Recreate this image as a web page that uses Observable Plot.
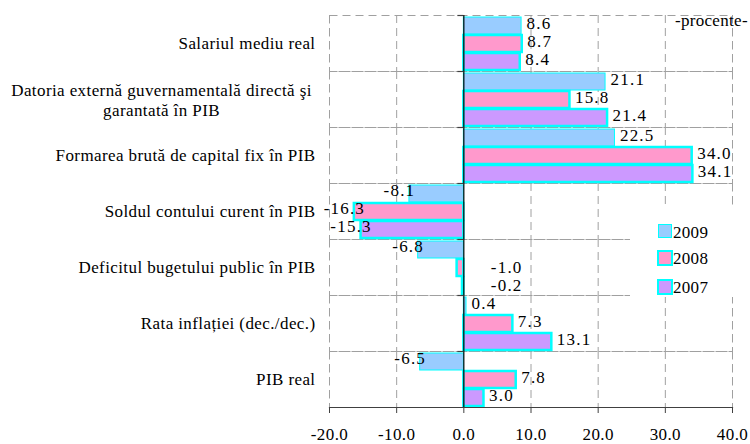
<!DOCTYPE html>
<html>
<head>
<meta charset="utf-8">
<script src="https://cdn.jsdelivr.net/npm/d3@7"></script>
<script src="https://cdn.jsdelivr.net/npm/@observablehq/plot@0.6"></script>
<style>
  html, body { margin: 0; padding: 0; background: white; }
  #wrap { position: relative; width: 750px; height: 444px; font-family: "Liberation Serif", "Times New Roman", serif; }
  #wrap svg text { letter-spacing: 0.4px; }
  #wrap svg .vlab text, #wrap svg text.vlab, #wrap svg g.vlab text { letter-spacing: 1.2px; }
  .ov { position: absolute; font-size: 17px; color: #000; white-space: nowrap; line-height: 1; letter-spacing: 0.3px; }
  .sw { position: absolute; width: 12px; height: 12px; box-sizing: content-box; }
  .lgbox { position: absolute; background: white; }
</style>
</head>
<body>
<div id="wrap"></div>
<script>
const categories = [
  "Salariul mediu real",
  "Datoria externă guvernamentală directă şi\ngarantată în PIB",
  "Formarea brută de capital fix în PIB",
  "Soldul contului curent în PIB",
  "Deficitul bugetului public în PIB",
  "Rata inflației (dec./dec.)",
  "PIB real"
];
const series = ["2009", "2008", "2007"];
const values2009 = [8.6, 21.1, 22.5, -8.1, -6.8, 0.4, -6.5];
const values2008 = [8.7, 15.8, 34.0, -16.3, -1.0, 7.3, 7.8];
const values2007 = [8.4, 21.4, 34.1, -15.3, -0.2, 13.1, 3.0];
const xTicks = [-20, -10, 0, 10, 20, 30, 40];
const colors = ["#99CCFF", "#FF99CC", "#CC99FF"];
const unitNote = "-procente-";

const seriesValues = [values2009, values2008, values2007];
const rows = [];
categories.forEach((c, i) => {
  series.forEach((s, j) => {
    rows.push({category: c, series: s, value: seriesValues[j][i]});
  });
});

const font = "Liberation Serif";
const grid = {stroke: "#a0a0a0", strokeDasharray: "8,5", strokeWidth: 1};
const fmt = d => d.value.toFixed(1);
const chart = Plot.plot({
  width: 750,
  height: 444,
  marginLeft: 329,
  marginRight: 18,
  marginTop: 15,
  marginBottom: 37,
  style: "font-family: 'Liberation Serif', 'Times New Roman', serif; font-size: 17px; background: white; color: black; overflow: visible;",
  facet: {data: rows, y: "category"},
  fy: {domain: categories, padding: 0, axis: null, label: null},
  y: {domain: series, axis: null, paddingInner: 0.06, paddingOuter: 0.04},
  x: {domain: [-20, 40], axis: null},
  color: {domain: series, range: colors},
  marks: [
    Plot.ruleX(xTicks.filter(t => t !== 0), grid),
    Plot.frame(grid),
    Plot.barX(rows, {x: "value", y: "series", fill: "series", stroke: "#00FFFF",
      strokeWidth: d => d.series === "2009" ? 1 : 2.5}),
    Plot.ruleX([0], {stroke: "#000", strokeWidth: 1.2}),
    Plot.frame({anchor: "bottom", facetAnchor: "bottom", stroke: "#404040", strokeWidth: 1.2}),
    Plot.axisX({ticks: xTicks, tickFormat: d => d.toFixed(1), label: null, tickSize: 6, tickPadding: 14,
      stroke: "#404040", fill: "#000", fontSize: 17, fontFamily: font}),
    // value labels: positive values after the bar end
    Plot.text(rows, {filter: d => d.value >= 0, x: "value", y: "series", text: fmt,
      textAnchor: "start", dx: 5, dy: -2, fill: "#000", fontSize: 17, fontFamily: font, className: "vlab"}),
    // larger negative values before the bar end
    Plot.text(rows, {filter: d => d.value <= -2, x: "value", y: "series", text: fmt,
      textAnchor: "middle", dx: -10, dy: -3, fill: "#000", fontSize: 17, fontFamily: font, className: "vlab"}),
    // small negative values are labelled to the right of the zero axis
    Plot.text(rows, {filter: d => d.value < 0 && d.value > -2, x: d => Math.max(d.value, 0), y: "series", text: fmt,
      textAnchor: "start", dx: 27, dy: 0, fill: "#000", fontSize: 17, fontFamily: font, className: "vlab"}),
    // category labels
    Plot.text(rows, {filter: d => d.series === "2009" && !d.category.includes("\n"), frameAnchor: "left",
      text: "category", textAnchor: "end", dx: -14, fill: "#000", fontSize: 17, fontFamily: font}),
    Plot.text(rows, {filter: d => d.series === "2009" && d.category.includes("\n"), frameAnchor: "left",
      text: "category", textAnchor: "middle", dx: -168, fill: "#000", fontSize: 17, fontFamily: font, lineHeight: 1.18})
  ]
});

const wrap = document.getElementById("wrap");
wrap.appendChild(chart);

// small tick marks on the zero axis at the category boundaries, from the chart's own scales
try {
  const xs = chart.scale("x");
  const fys = chart.scale("fy");
  const x0 = xs.apply(0);
  const g = d3.select(chart).append("g").attr("stroke", "#404040").attr("stroke-width", 1.2);
  categories.forEach(c => {
    const b = fys.apply(c);
    g.append("line").attr("x1", x0 - 6).attr("x2", x0).attr("y1", b + 0.5).attr("y2", b + 0.5);
  });
} catch (e) {}

// legend overlay
const box = document.createElement("div");
box.className = "lgbox";
box.style.left = "630px"; box.style.top = "207px";
box.style.width = "108px"; box.style.height = "90px";
wrap.appendChild(box);
const legendTops = [224, 249.5, 278.5];
const legendBorder = [1, 2, 2];
series.forEach((s, j) => {
  const sw = document.createElement("div");
  sw.className = "sw";
  sw.style.left = (legendBorder[j] === 1 ? 658 : 657) + "px";
  sw.style.top = legendTops[j] + "px";
  sw.style.background = colors[j];
  sw.style.border = `${legendBorder[j]}px solid #00FFFF`;
  wrap.appendChild(sw);
  const t = document.createElement("div");
  t.className = "ov";
  t.style.left = "673px";
  t.style.top = (legendTops[j] - 1.5 + legendBorder[j]) + "px";
  t.textContent = s;
  wrap.appendChild(t);
});
const note = document.createElement("div");
note.className = "ov";
note.style.left = "675px";
note.style.top = "12px";
note.textContent = unitNote;
wrap.appendChild(note);
</script>
</body>
</html>
